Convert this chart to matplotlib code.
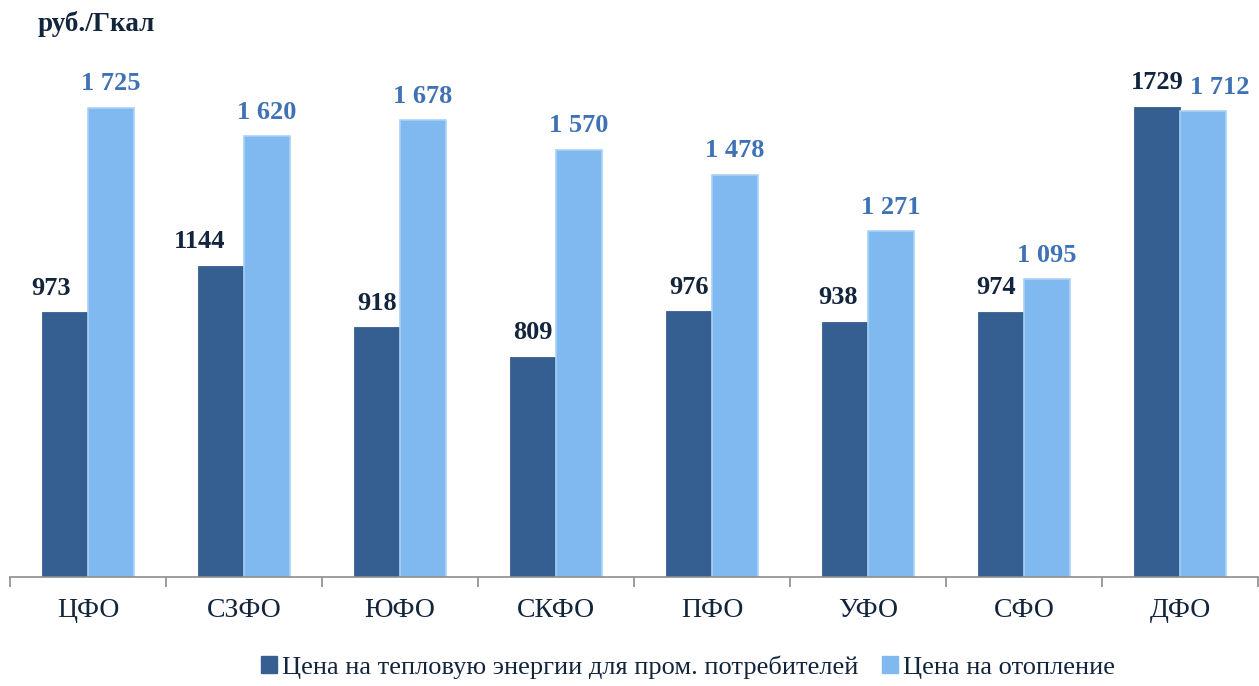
import matplotlib
matplotlib.use("Agg")
import matplotlib.pyplot as plt
from matplotlib.patches import Patch
import numpy as np

categories = ["ЦФО", "СЗФО", "ЮФО", "СКФО", "ПФО", "УФО", "СФО", "ДФО"]
industrial = [973, 1144, 918, 809, 976, 938, 974, 1729]
heating = [1725, 1620, 1678, 1570, 1478, 1271, 1095, 1712]
industrial_labels = ["973", "1144", "918", "809", "976", "938", "974", "1729"]
heating_labels = ["1 725", "1 620", "1 678", "1 570", "1 478", "1 271", "1 095", "1 712"]
series_names = ["Цена на тепловую энергии для пром. потребителей", "Цена на отопление"]
unit_label = "руб./Гкал"

dark = "#365f91"
light = "#7fb9f0"
light_edge = "#a9d2f7"
dark_text = "#13243d"
light_text = "#3f72b4"

plt.rcParams["font.family"] = ["Liberation Serif", "DejaVu Serif"]

W, H = 1259, 686
fig = plt.figure(figsize=(W / 100, H / 100), dpi=100)
ax = fig.add_axes([10 / W, 1 - 577 / H, 1248 / W, (577 - 60) / H])

x = np.arange(len(categories))
bw = 0.295
ax.bar(x - bw / 2, industrial, bw, color=dark, edgecolor=dark, linewidth=0.6, zorder=2)
ax.bar(x + bw / 2, heating, bw, color=light, edgecolor=light_edge, linewidth=1.2, zorder=2)

# horizontal nudges so neighbouring labels do not collide
dark_shift = {0: -0.09, 1: -0.14, 5: -0.045, 6: -0.03}
light_shift = {7: 0.11}
for i, (v, t) in enumerate(zip(industrial, industrial_labels)):
    ax.annotate(t, (x[i] - bw / 2 + dark_shift.get(i, 0), v), xytext=(0, 9),
                textcoords="offset points", ha="center", va="bottom",
                fontsize=19, fontweight="bold", color=dark_text)
for i, (v, t) in enumerate(zip(heating, heating_labels)):
    ax.annotate(t, (x[i] + bw / 2 + light_shift.get(i, 0), v), xytext=(0, 9),
                textcoords="offset points", ha="center", va="bottom",
                fontsize=19, fontweight="bold", color=light_text)

ax.set_xlim(-0.5, len(categories) - 0.5)
ax.set_ylim(0, 1900)
for s in ["top", "right", "left"]:
    ax.spines[s].set_visible(False)
ax.spines["bottom"].set_color("#8c8c8c")
ax.spines["bottom"].set_linewidth(1.2)
ax.set_yticks([])

ax.set_xticks(np.arange(len(categories) + 1) - 0.5, minor=True)
ax.tick_params(axis="x", which="minor", length=7, width=1.2, color="#8c8c8c")
ax.set_xticks(x)
ax.set_xticklabels(categories, fontsize=20, color=dark_text)
ax.tick_params(axis="x", which="major", length=0, pad=15)

fig.text(38 / W, 1 - 24 / H, unit_label, fontsize=19.5, fontweight="bold",
         color=dark_text, ha="left", va="center")

handles = [Patch(color=dark), Patch(color=light)]
fig.legend(handles, series_names, loc="center", bbox_to_anchor=(688 / W, 1 - 667 / H),
           ncol=2, frameon=False, fontsize=19, handlelength=0.6, handleheight=0.6,
           handletextpad=0.2, columnspacing=0.9, labelcolor=dark_text)

fig.savefig("out.png", dpi=100, facecolor="white")
